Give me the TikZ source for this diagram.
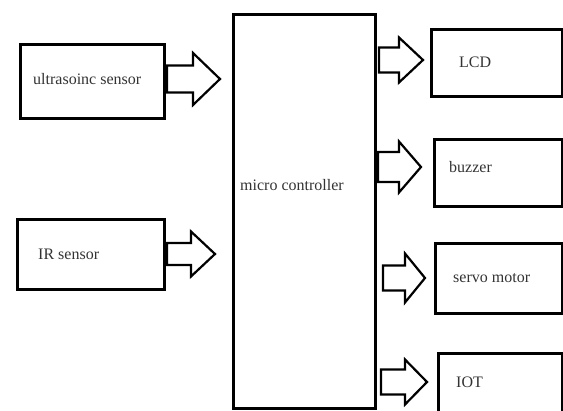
\documentclass[tikz,border=0pt]{standalone}
\usepackage{fontspec}
\setmainfont{Liberation Serif}
\newfontfamily\tnr{Liberation Serif}
\tikzset{
  box/.style={draw, line width=2.6pt, inner sep=0pt, anchor=north west},
  lbl/.style={font=\tnr\fontsize{16}{19}\selectfont, text=black!80, anchor=west, inner sep=0pt},
  pics/barrow/.style n args={4}{code={
    \draw[line width=2.2pt, fill=white, line join=miter]
      (0,-#3/2) -- (#1-#4,-#3/2) -- (#1-#4,-#2/2) -- (#1,0) -- (#1-#4,#2/2) -- (#1-#4,#3/2) -- (0,#3/2) -- cycle;
  }}
}
\begin{document}
\begin{tikzpicture}[x=1pt,y=-1pt]
\useasboundingbox (0,0) rectangle (563,411);
\fill[white] (0,0) rectangle (563,411);
\begin{scope}
\clip (0,0) rectangle (563,411);
% boxes
\node[box, minimum width=144pt, minimum height=74pt] (us) at (19,43) {};
\node[box, minimum width=147pt, minimum height=70pt] (ir) at (16,218) {};
\node[box, minimum width=142pt, minimum height=394pt] (mc) at (232,13) {};
\node[box, minimum width=131pt, minimum height=67pt] (lcd) at (430,28) {};
\node[box, minimum width=128pt, minimum height=67pt] (bz) at (433,138) {};
\node[box, minimum width=127pt, minimum height=70pt] (sv) at (434,242) {};
\node[box, minimum width=124pt, minimum height=70pt] (iot) at (437,352) {};
\end{scope}
% labels
\node[lbl] (tus) at (33,79) {ultrasoinc sensor};
\node[lbl] (tir) at (38,254) {IR sensor};
\node[lbl] (tmc) at (240,185) {micro controller};
\node[lbl] (tlcd) at (459,62) {LCD};
\node[lbl] (tbz) at (449,167) {buzzer};
\node[lbl] (tsv) at (453,278) {servo motor};
\node[lbl] (tiot) at (456,382) {IOT};
% block arrows
\pic at (167,79) {barrow={53}{52}{27}{27}};
\pic at (167,254) {barrow={48}{45}{22}{24}};
\pic at (379,60) {barrow={44}{45}{25}{24}};
\pic at (378,167) {barrow={43}{51}{30}{22}};
\pic at (383,278) {barrow={42}{49}{25}{20}};
\pic at (381,382) {barrow={46}{45}{25}{22}};
\end{tikzpicture}
\end{document}
